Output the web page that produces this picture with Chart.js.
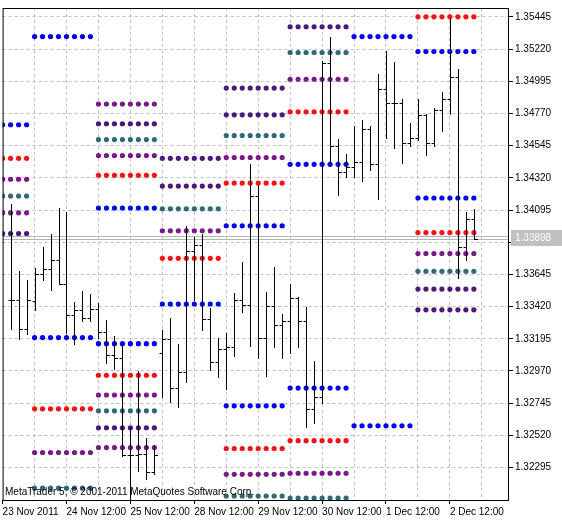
<!DOCTYPE html>
<html><head><meta charset="utf-8">
<script src="https://cdn.jsdelivr.net/npm/chart.js@4/dist/chart.umd.min.js"></script>
<style>html,body{margin:0;padding:0;background:#fff}#w{width:562px;height:521px}</style>
</head><body><div id="w"><canvas id="c"></canvas></div>
<script>
// OHLC bars (index 1..59)
const opens  = [1.33466,1.33466,1.33265,1.33459,1.33646,1.3368,1.33743,1.33577,1.33362,1.33397,1.33341,1.33404,1.33245,1.33085,1.33058,1.3238,1.32386,1.32393,1.32262,1.33099,1.33196,1.3285,1.32961,1.33805,1.33853,1.33334,1.3303,1.3312,1.33134,1.33466,1.33431,1.34193,1.33203,1.33424,1.33293,1.33321,1.3348,1.33321,1.32705,1.32788,1.3512,1.34539,1.34359,1.34393,1.34428,1.34663,1.34414,1.3494,1.34843,1.34843,1.34566,1.34601,1.3476,1.34566,1.34795,1.34871,1.35023,1.33833,1.34033];
const highs  = [1.34137,1.33667,1.33604,1.33687,1.33833,1.3393,1.34109,1.34082,1.33452,1.33528,1.33507,1.33445,1.33328,1.33217,1.33161,1.3258,1.32968,1.32504,1.32449,1.33258,1.33341,1.33155,1.33985,1.33909,1.3393,1.33411,1.33203,1.33238,1.33514,1.33729,1.34414,1.34269,1.33521,1.33694,1.33369,1.33577,1.33487,1.33418,1.33037,1.35134,1.35307,1.34594,1.34483,1.34684,1.34725,1.34684,1.35044,1.35203,1.35127,1.34871,1.34705,1.34871,1.34767,1.34808,1.34919,1.35431,1.35078,1.34082,1.34103];
const lows   = [1.33265,1.33196,1.33231,1.33397,1.33604,1.33535,1.33577,1.33238,1.33161,1.33321,1.33321,1.33203,1.33023,1.32982,1.32373,1.32075,1.32269,1.32213,1.32248,1.32788,1.32753,1.32719,1.32892,1.33466,1.33258,1.32975,1.32926,1.32843,1.33072,1.33383,1.33141,1.33058,1.32933,1.33134,1.33058,1.33099,1.33134,1.3258,1.32608,1.32746,1.34407,1.342,1.34324,1.34324,1.34296,1.34372,1.34172,1.34601,1.34525,1.34421,1.34539,1.34587,1.34476,1.34539,1.34649,1.34767,1.33618,1.33743,1.33895];
const closes = [1.33466,1.33265,1.33466,1.33646,1.3368,1.33743,1.33577,1.33362,1.33397,1.33341,1.33404,1.33245,1.33085,1.33058,1.3238,1.32386,1.32393,1.32262,1.3238,1.33196,1.3285,1.32961,1.33805,1.33853,1.33334,1.3303,1.3312,1.33134,1.33466,1.33431,1.34193,1.33203,1.33424,1.33293,1.33321,1.3348,1.33321,1.32705,1.32788,1.3512,1.34539,1.34359,1.34393,1.34428,1.34663,1.34414,1.3494,1.34843,1.34843,1.34566,1.34601,1.3476,1.34566,1.34795,1.34871,1.35023,1.33833,1.34033,1.33895];
const firstBar = 1;
const lastPrice = 1.33898;

// Pivot level groups: start index, length, prices, colour keys
const groupStarts = [0,4,12,20,28,36,44,52];
const groupLens   = [4,8,8,8,8,8,8,8];
const groupPrices = [
  [1.34691,1.34456,1.3431,1.34193,1.34075,1.3393],
  [1.35307,1.33203,1.32705,1.324,1.32151],
  [1.34836,1.34698,1.34587,1.34476,1.34338,1.34109,1.33161,1.3294,1.32802,1.32691,1.32573,1.32435],
  [1.34456,1.34262,1.34103,1.3395,1.33757,1.33438],
  [1.34947,1.3476,1.34615,1.34462,1.34283,1.33985,1.32726,1.32428,1.32248,1.32096],
  [1.35376,1.35196,1.35009,1.34781,1.34414,1.3285,1.32483,1.32255,1.32082],
  [1.35307,1.32587],
  [1.35445,1.35203,1.34179,1.33937,1.33791,1.33667,1.33542,1.33397]
];
const groupColors = [
  ['B','R','P','T','P','I'],
  ['B','B','R','P','T'],
  ['P','I','T','P','R','B','B','R','P','T','I','P'],
  ['I','I','T','P','R','B'],
  ['I','I','T','P','R','B','B','R','P','T'],
  ['I','T','P','R','B','B','R','P','T'],
  ['B','B'],
  ['R','B','B','R','P','T','I','I']
];
const colorMap = {B:'#0000ff',R:'#ff1010',P:'#7a1a8a',T:'#2f6a72',I:'#4a1a7a'};

const yTicks = [1.32295,1.3252,1.32745,1.3297,1.33195,1.3342,1.33645,1.3387,1.34095,1.3432,1.34545,1.3477,1.34995,1.3522,1.35445];
const xTickPos = [0,4,8,12,16,20,24,28,32,36,40,44,48,52,56,60];
const xLabels = {0:'23 Nov 2011',8:'24 Nov 12:00',16:'25 Nov 12:00',24:'28 Nov 12:00',32:'29 Nov 12:00',40:'30 Nov 12:00',48:'1 Dec 12:00',56:'2 Dec 12:00'};

const FONT = 'Liberation Sans';
const datasets = [];
for (const key of Object.keys(colorMap)) {
  const pts = [];
  groupPrices.forEach((arr,g)=>arr.forEach((p,k)=>{
    if (groupColors[g][k]!==key) return;
    for (let j=0;j<groupLens[g];j++) pts.push({x:groupStarts[g]+j,y:p});
  }));
  datasets.push({type:'scatter',data:pts,pointRadius:2.6,pointHoverRadius:2.6,borderWidth:0,backgroundColor:colorMap[key]});
}

const ohlcPlugin = {
  id:'ohlc',
  afterDatasetsDraw(chart){
    const {ctx,scales:{x,y},chartArea:a} = chart;
    ctx.save();
    ctx.beginPath(); ctx.rect(a.left,a.top,a.right-a.left,a.bottom-a.top); ctx.clip();
    const ly = Math.round(y.getPixelForValue(lastPrice));
    ctx.strokeStyle='#b4b4b4'; ctx.lineWidth=1;
    ctx.beginPath(); ctx.moveTo(a.left,ly-1.5); ctx.lineTo(a.right,ly-1.5); ctx.moveTo(a.left,ly+1.5); ctx.lineTo(a.right,ly+1.5); ctx.stroke();
    ctx.strokeStyle='#000';
    for (let k=0;k<opens.length;k++){
      const px = Math.round(x.getPixelForValue(firstBar+k))+0.5;
      const yo=Math.round(y.getPixelForValue(opens[k]))+0.5, yh=Math.round(y.getPixelForValue(highs[k])), yl=Math.round(y.getPixelForValue(lows[k])), yc=Math.round(y.getPixelForValue(closes[k]))+0.5;
      ctx.beginPath();
      ctx.moveTo(px,yh); ctx.lineTo(px,yl+1);
      ctx.moveTo(px-3,yo); ctx.lineTo(px,yo);
      ctx.moveTo(px,yc); ctx.lineTo(px+3.5,yc);
      ctx.stroke();
    }
    ctx.restore();
    ctx.save();
    ctx.font='10px "'+FONT+'"'; ctx.fillStyle='#000'; ctx.textBaseline='alphabetic';
    ctx.fillText('MetaTrader 5, © 2001-2011 MetaQuotes Software Corp.', 5, a.bottom-5);
    ctx.fillStyle='#c0c0c0'; ctx.fillRect(a.right+2, ly-8, 51, 16);
    ctx.fillStyle='#fff'; ctx.textBaseline='middle';
    ctx.fillText(lastPrice.toFixed(5), a.right+6, ly);
    ctx.strokeStyle='#000'; ctx.lineWidth=1;
    ctx.strokeRect(a.left+0.5,a.top+0.5,a.right-a.left-1,a.bottom-a.top);
    ctx.restore();
  }
};

new Chart(document.getElementById('c'),{
  data:{datasets},
  options:{
    responsive:true, maintainAspectRatio:false, animation:false,
    layout:{padding:{left:2,top:4,right:0,bottom:0}},
    plugins:{legend:{display:false},tooltip:{enabled:false}},
    scales:{
      x:{type:'linear',min:0,max:63.4,
        afterFit(s){s.height=21;},
        afterBuildTicks(s){s.ticks=xTickPos.map(v=>({value:v}));},
        border:{display:false,dash:[3,3]},
        grid:{color:c=>c.tick&&c.tick.value===0?'rgba(0,0,0,0)':'#c0c0c0',tickColor:c=>(c.tick&&xLabels[c.tick.value]!==undefined)?'#000':'rgba(0,0,0,0)',tickLength:4,drawTicks:true},
        ticks:{align:'start',maxRotation:0,autoSkip:false,padding:2,color:'#000',font:{family:FONT,size:10},callback:v=>xLabels[v]||''}
      },
      y:{type:'linear',position:'right',min:1.32068,max:1.35507,
        afterFit(s){s.width=53;},
        afterBuildTicks(s){s.ticks=yTicks.map(v=>({value:v}));},
        border:{display:false,dash:[3,3]},
        grid:{color:'#c0c0c0',tickColor:'#000',tickLength:4},
        ticks:{padding:2,color:'#000',font:{family:FONT,size:10},callback:v=>v.toFixed(5)}
      }
    }
  },
  plugins:[ohlcPlugin]
});
</script></body></html>
